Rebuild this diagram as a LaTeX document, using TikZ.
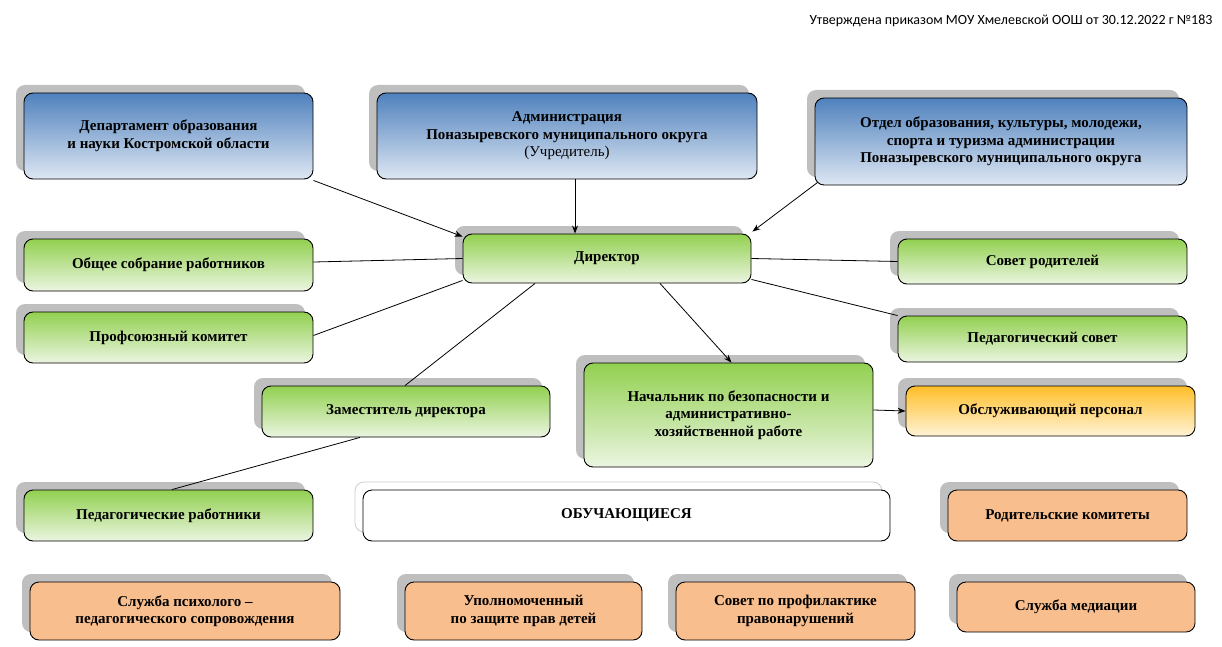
\documentclass[tikz,border=0pt]{standalone}
\usepackage{fontspec}
\setmainfont{Liberation Serif}
\newfontfamily\hdrfont{Carlito}
\usetikzlibrary{shadows,arrows.meta,calc}
\definecolor{bluetop}{RGB}{79,129,189}
\definecolor{bluebot}{RGB}{222,231,243}
\definecolor{greentop}{RGB}{146,208,80}
\definecolor{greenbot}{RGB}{235,245,225}
\definecolor{yeltop}{RGB}{255,190,40}
\definecolor{yelbot}{RGB}{255,243,215}
\definecolor{orfill}{RGB}{248,190,142}
\tikzset{
 x=1pt,y=-1pt,
 box/.style={draw=black,line width=0.9pt,rounded corners=9pt,align=center,
   inner sep=2pt,font=\fontsize{15}{17.5}\selectfont\bfseries,
   general shadow={shadow xshift=-8pt,shadow yshift=8pt,fill=black!25,draw=none}},
 bluebox/.style={box,top color=bluetop,bottom color=bluebot},
 greenbox/.style={box,top color=greentop,bottom color=greenbot},
 yelbox/.style={box,top color=yeltop,bottom color=yelbot},
 orbox/.style={box,fill=orfill},
 conn/.style={line width=0.8pt},
 arr/.style={conn,-{Stealth[length=8pt,width=6pt]}}
}
\begin{document}
\begin{tikzpicture}
\useasboundingbox (0,0) rectangle (1222,647);
\node[anchor=base east,font=\hdrfont\fontsize{14}{16}\selectfont] (hdr) at (1216,25) {Утверждена приказом МОУ Хмелевской ООШ от 30.12.2022 г №183};
\node[bluebox,minimum width=289,minimum height=86] (dept) at (168.5,136) {Департамент образования\\и науки Костромской области};
\node[bluebox,minimum width=380,minimum height=86] (adm) at (567,136) {Администрация\\Поназыревского муниципального округа\\{\mdseries(Учредитель)}};
\node[bluebox,minimum width=372,minimum height=87] (otd) at (1001,141.5) {Отдел образования, культуры, молодежи,\\спорта и туризма администрации\\Поназыревского муниципального округа};
\node[greenbox,minimum width=288,minimum height=49] (dir) at (607,258.5) {Директор};
\node[greenbox,minimum width=289,minimum height=52] (obs) at (168.5,265) {Общее собрание работников};
\node[greenbox,minimum width=289,minimum height=51] (prof) at (168.5,337.5) {Профсоюзный комитет};
\node[greenbox,minimum width=288,minimum height=51] (zam) at (406,411.5) {Заместитель директора};
\node[greenbox,minimum width=289,minimum height=51] (ped) at (168.5,515.5) {Педагогические работники};
\node[greenbox,minimum width=289,minimum height=45] (sovr) at (1042.5,261.5) {Совет родителей};
\node[greenbox,minimum width=289,minimum height=46] (pedsov) at (1042.5,339) {Педагогический совет};
\node[greenbox,minimum width=289,minimum height=104] (nach) at (728.5,415) {Начальник по безопасности и\\административно-\\хозяйственной работе};
\node[yelbox,minimum width=289,minimum height=50] (obsl) at (1050.5,411) {Обслуживающий персонал};
\draw[black!20,line width=0.8pt,rounded corners=9pt] (355,482) rectangle (882,532);
\node[draw=black,line width=0.9pt,rounded corners=9pt,fill=white,minimum width=527,minimum height=51,font=\fontsize{15}{17.5}\selectfont\bfseries] (uch) at (626.5,515.5) {ОБУЧАЮЩИЕСЯ};
\node[orbox,minimum width=239,minimum height=51] (rodk) at (1067.5,515.5) {Родительские комитеты};
\node[orbox,minimum width=310,minimum height=58] (psy) at (185,611) {Служба психолого –\\педагогического сопровождения};
\node[orbox,minimum width=237,minimum height=58] (upl) at (523.5,611) {Уполномоченный\\по защите прав детей};
\node[orbox,minimum width=239,minimum height=58] (sprof) at (795.5,611) {Совет по профилактике\\правонарушений};
\node[orbox,minimum width=238,minimum height=50] (med) at (1076,607) {Служба медиации};
\draw[arr] ($(dept.south east)+(0,1)$) -- ($(dir.north west)+(0,3)$);
\draw[arr] ($(adm.south)+(8,0)$) -- ($(dir.north)+(-32,0)$);
\draw[arr] ($(otd.south west)+(3,-3)$) -- ($(dir.north east)+(1,-2)$);
\draw[conn] ($(obs.east)+(0,-3)$) -- (dir.west);
\draw[conn] (dir.east) -- (sovr.west);
\draw[conn] ($(dir.south east)+(0,-4)$) -- (pedsov.north west);
\draw[conn] ($(prof.east)+(0,-2)$) -- ($(dir.south west)+(0,-3)$);
\draw[conn] ($(dir.south)+(-72,0)$) -- ($(zam.north)+(-1,0)$);
\draw[arr] ($(dir.south)+(53,0)$) -- ($(nach.north)+(3,0)$);
\draw[arr] ($(nach.east)+(0,-5)$) -- (obsl.west);
\draw[conn] ($(zam.south)+(-46,0)$) -- ($(ped.north)+(3.5,0)$);
\end{tikzpicture}
\end{document}
